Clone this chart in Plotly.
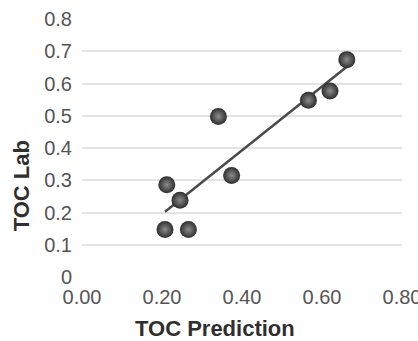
import numpy as np
import plotly.graph_objects as go

# Predicted vs. laboratory total organic carbon
toc_prediction = [0.2075, 0.212, 0.245, 0.266, 0.341, 0.374, 0.566, 0.620, 0.662]
toc_lab = [0.147, 0.286, 0.238, 0.147, 0.498, 0.315, 0.548, 0.577, 0.674]

x_ticks = [0.0, 0.2, 0.4, 0.6, 0.8]
y_ticks = [0.0, 0.1, 0.2, 0.3, 0.4, 0.5, 0.6, 0.7, 0.8]
y_tick_text = ["0", "0.1", "0.2", "0.3", "0.4", "0.5", "0.6", "0.7", "0.8"]

# Least-squares trend line over the span of the predictions
slope, intercept = np.polyfit(toc_prediction, toc_lab, 1)
trend_x = [min(toc_prediction), max(toc_prediction)]
trend_y = [slope * v + intercept for v in trend_x]

FONT = "Liberation Sans, Arial, sans-serif"

fig = go.Figure()
fig.add_trace(go.Scatter(
    x=trend_x, y=trend_y, mode="lines",
    line=dict(color="#4a4a4a", width=2.5),
    hoverinfo="skip", showlegend=False,
))
fig.add_trace(go.Scatter(
    x=toc_prediction, y=toc_lab, mode="markers",
    marker=dict(
        size=17, color="#2e2e2e",
        gradient=dict(type="radial", color="#8c8c8c"),
        line=dict(width=0),
    ),
    showlegend=False,
))

fig.update_layout(
    width=418, height=341,
    margin=dict(l=82, r=16, t=19, b=64),
    plot_bgcolor="white", paper_bgcolor="white",
    font=dict(family=FONT, size=20, color="#555555"),
    xaxis=dict(
        range=[0, 0.8], tickvals=x_ticks, tickformat=".2f",
        showgrid=False, zeroline=False, showline=False,
        ticks="", ticklabelstandoff=6, ticklabeloverflow="allow",
        automargin=False,
    ),
    yaxis=dict(
        range=[0, 0.8], tickvals=y_ticks, ticktext=y_tick_text,
        showgrid=True, gridcolor="#e3e3e3", gridwidth=1.5,
        zeroline=False, showline=False,
        ticks="", ticklabelstandoff=9, automargin=False,
    ),
    annotations=[
        dict(text="<b>TOC Prediction</b>", xref="paper", yref="paper",
             x=(215 - 82) / 320, y=-(328 - 276.7) / 258,
             showarrow=False, xanchor="center", yanchor="middle",
             font=dict(family=FONT, size=22, color="#2f2f2f")),
        dict(text="<b>TOC Lab</b>", xref="paper", yref="paper",
             x=-(82 - 21) / 320, y=(276.7 - 186) / 258, textangle=-90,
             showarrow=False, xanchor="center", yanchor="middle",
             font=dict(family=FONT, size=22, color="#2f2f2f")),
    ],
)

fig.write_html("out.html")
